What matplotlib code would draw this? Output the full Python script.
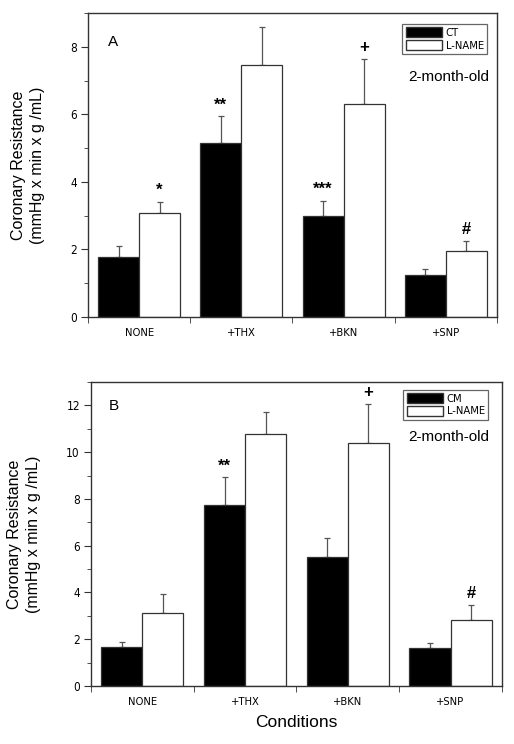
import matplotlib
matplotlib.use("Agg")
import matplotlib.pyplot as plt
from matplotlib.patches import Patch
from matplotlib.ticker import FixedLocator, MultipleLocator
from matplotlib.font_manager import FontProperties
import numpy as np

categories = ["NONE", "+THX", "+BKN", "+SNP"]

# Panel A
a_ct = [1.79, 5.14, 2.98, 1.24]
a_ct_err = [0.30, 0.80, 0.45, 0.18]
a_ln = [3.09, 7.46, 6.32, 1.94]
a_ln_err = [0.31, 1.13, 1.31, 0.32]
a_marks_ct = ["", "**", "***", ""]
a_marks_ln = ["*", "", "+", "#"]

# Panel B
b_cm = [1.66, 7.75, 5.52, 1.61]
b_cm_err = [0.20, 1.19, 0.79, 0.21]
b_ln = [3.14, 10.76, 10.37, 2.80]
b_ln_err = [0.81, 0.96, 1.69, 0.68]
b_marks_cm = ["", "**", "", ""]
b_marks_ln = ["", "", "+", "#"]

SANS = ["Liberation Sans", "DejaVu Sans"]

def narrow(size):
    return FontProperties(family=["Liberation Sans Narrow", "DejaVu Sans"], stretch="condensed", size=size)

fig = plt.figure(figsize=(5.14, 7.44), dpi=100)

def panel(rect, v1, e1, v2, e2, m1, m2, ymax, label1, letter, mark_off, leg_anchor, txt_pos, letter_pos):
    ax = fig.add_axes(rect)
    x = np.arange(len(categories))
    w = 0.4
    ax.bar(x - w/2, v1, w, color="black", edgecolor="#333333", linewidth=0.9, zorder=2)
    ax.bar(x + w/2, v2, w, color="white", edgecolor="#333333", linewidth=0.9, zorder=2)
    ax.errorbar(x - w/2, v1, yerr=[np.zeros(len(v1)), e1], fmt="none",
                ecolor="#555555", elinewidth=0.9, capsize=2, capthick=0.9, zorder=1)
    ax.errorbar(x + w/2, v2, yerr=[np.zeros(len(v2)), e2], fmt="none",
                ecolor="#555555", elinewidth=0.9, capsize=2, capthick=0.9, zorder=1)
    for i in range(len(categories)):
        if m1[i]:
            ax.text(x[i] - w/2, v1[i] + e1[i] + mark_off, m1[i], ha="center", va="bottom",
                    fontsize=12, family=SANS, fontweight="bold")
        if m2[i]:
            ax.text(x[i] + w/2, v2[i] + e2[i] + mark_off, m2[i], ha="center", va="bottom",
                    fontsize=12, family=SANS, fontweight="bold")
    ax.set_xlim(-0.5, 3.5)
    ax.set_ylim(0, ymax)
    ax.set_xticks(x)
    ax.set_xticklabels(categories, fontproperties=narrow(8))
    ax.xaxis.set_minor_locator(FixedLocator([-0.5, 0.5, 1.5, 2.5, 3.5]))
    ax.tick_params(axis="x", which="major", length=0, pad=8)
    ax.tick_params(axis="x", which="minor", length=4, direction="out", color="#333333")
    ax.yaxis.set_major_locator(MultipleLocator(2))
    ax.yaxis.set_minor_locator(MultipleLocator(1))
    ax.tick_params(axis="y", which="major", length=5, direction="out", color="#333333", pad=3)
    ax.tick_params(axis="y", which="minor", length=3, direction="out", color="#333333")
    ax.set_yticks(ax.get_yticks())
    ax.set_yticklabels([f"{int(t)}" for t in ax.get_yticks()], fontproperties=narrow(8.5))
    ax.set_ylim(0, ymax)
    for s in ax.spines.values():
        s.set_color("#333333")
        s.set_linewidth(1.0)
    handles = [Patch(facecolor="black", edgecolor="#333333", label=label1),
               Patch(facecolor="white", edgecolor="#333333", label="L-NAME")]
    leg = ax.legend(handles=handles, loc="upper right", bbox_to_anchor=leg_anchor,
                    borderaxespad=0, fancybox=False, framealpha=1, edgecolor="#666666",
                    prop=narrow(8), handlelength=3.3, handleheight=1.0,
                    handletextpad=0.3, borderpad=0.3, labelspacing=0.15)
    leg.get_frame().set_linewidth(0.9)
    ax.text(txt_pos[0], txt_pos[1], "2-month-old", transform=ax.transAxes,
            ha="right", va="center", fontsize=11, family=SANS)
    ax.text(letter_pos[0], letter_pos[1], letter, transform=ax.transAxes,
            ha="center", va="center", fontsize=11, family=SANS)
    ax.set_ylabel("Coronary Resistance\n(mmHg x min x g /mL)", fontsize=11.5, family=SANS,
                  linespacing=1.35, labelpad=18)
    return ax

axA = panel([0.1712, 0.5739, 0.7957, 0.4086], a_ct, a_ct_err, a_ln, a_ln_err,
            a_marks_ct, a_marks_ln, 9, "CT", "A", 0.12,
            (0.976, 0.964), (0.98, 0.79), (0.06, 0.905))
axB = panel([0.177, 0.078, 0.7996, 0.4086], b_cm, b_cm_err, b_ln, b_ln_err,
            b_marks_cm, b_marks_ln, 13, "CM", "B", 0.15,
            (0.966, 0.974), (0.97, 0.82), (0.055, 0.92))
axB.set_xlabel("Conditions", fontsize=12.5, family=SANS, labelpad=6)

fig.savefig("out.png", dpi=100)
